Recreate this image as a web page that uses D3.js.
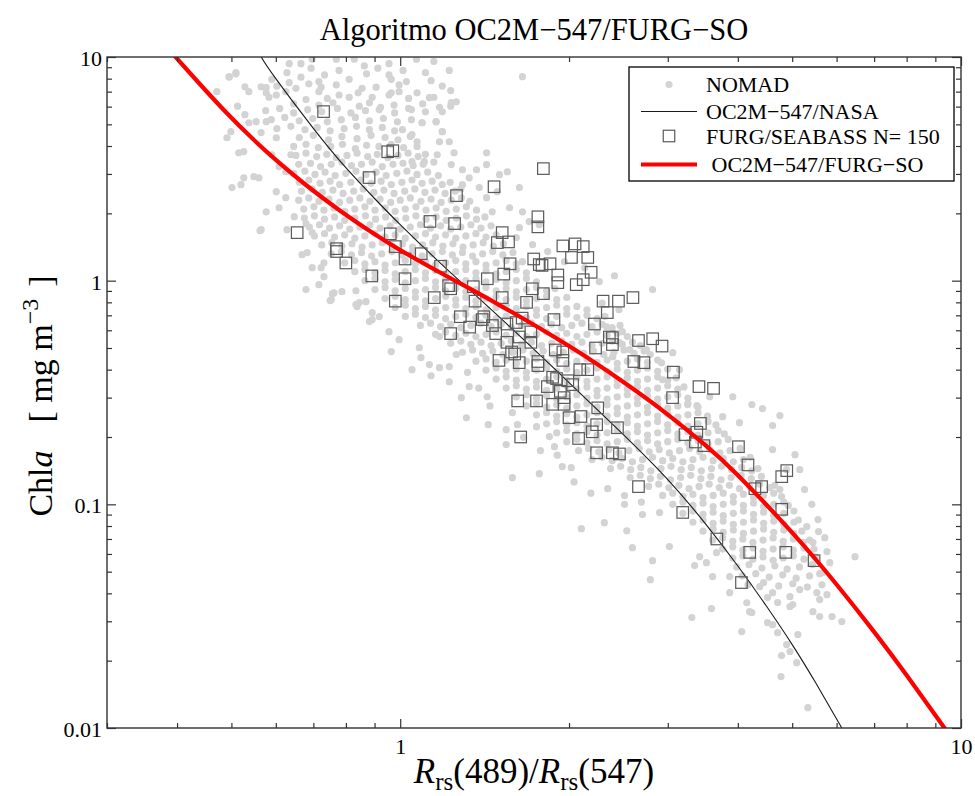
<!DOCTYPE html>
<html>
<head>
<meta charset="utf-8">
<script src="https://cdn.jsdelivr.net/npm/d3@7"></script>
<style>
  body { margin: 0; background: #fff; }
  text { font-family: "Liberation Serif", "DejaVu Serif", serif; fill: #000; }
</style>
</head>
<body>
<div class="canvas"></div>
<script>
const chartTitle = "Algoritmo OC2M\u2212547/FURG\u2212SO";
const xMajorTicks = [1, 10];
const yMajorTicks = [0.01, 0.1, 1, 10];
const legendLabels = ["NOMAD", "OC2M\u2212547/NASA", "FURG/SEABASS N= 150", " OC2M\u2212547/FURG\u2212SO"];

// OC2M-547/NASA curve (ratio, chl)
const nasaRatio = [0.565, 0.6, 0.7, 0.8, 0.9, 1, 1.2, 1.5, 2, 2.5, 3, 3.5, 4, 4.5, 5, 5.5, 6.13];
const nasaChl = [10, 8.0, 4.8, 3.2, 2.33, 1.78, 1.15, 0.69, 0.35, 0.205, 0.129, 0.082, 0.053, 0.035, 0.0236, 0.016, 0.01];

// OC2M-547/FURG-SO curve
const furgRatio = [0.392, 0.4375, 0.489, 0.544, 0.608, 0.68, 0.778, 0.891, 1, 1.2, 1.5, 2, 2.5, 3, 3.5, 4, 5, 6, 7, 8, 9.4];
const furgChl = [10.4, 7.65, 5.66, 4.34, 3.37, 2.67, 2.07, 1.64, 1.37, 1.06, 0.78, 0.51, 0.352, 0.252, 0.184, 0.135, 0.0747, 0.0438, 0.0269, 0.0172, 0.0098];

// FURG/SEABASS match-ups [ratio, chl]
const seabass = [
  [0.73,5.7],[0.95,3.77],[0.97,3.81],[0.88,2.89],[0.655,1.64],[0.96,1.62],[0.98,1.42],[0.77,1.39],[0.77,1.35],[0.80,1.20],[0.89,1.05],[0.98,0.81],
  [1.80,3.17],[1.47,2.63],[1.26,2.40],[1.13,1.84],[1.25,1.80],[1.76,1.93],[1.76,1.74],[1.52,1.64],[1.49,1.48],[1.56,1.49],[1.02,1.25],[1.09,1.32],
  [1.18,1.16],[1.95,1.43],[2.05,1.46],[2.12,1.42],[2.02,1.27],[2.16,1.27],[1.73,1.25],[1.57,1.19],[1.77,1.18],[1.79,1.17],[1.85,1.19],[2.19,1.09],
  [1.91,1.06],[1.91,0.98],[2.12,1.01],[2.06,0.96],[1.53,1.07],[1.43,1.02],[1.02,1.02],[1.22,0.95],[1.23,0.92],[1.35,0.94],[1.72,0.92],[1.80,0.875],
  [1.15,0.84],[1.36,0.81],[1.52,0.84],[1.68,0.80],[2.30,0.81],[2.45,0.81],[2.60,0.84],
  [1.28,0.69],[1.23,0.58],[1.33,0.62],[1.41,0.69],[1.40,0.67],[1.46,0.63],[1.55,0.64],[1.61,0.65],[1.48,0.58],[1.65,0.68],[1.71,0.59],[1.88,0.67],
  [2.22,0.64],[2.34,0.72],[1.55,0.53],[1.63,0.56],[1.71,0.53],[2.23,0.50],[2.36,0.56],[1.58,0.48],[1.60,0.47],[1.50,0.44],[1.63,0.43],[1.76,0.435],
  [1.76,0.417],[1.89,0.49],[1.95,0.48],[1.95,0.44],[2.09,0.40],[2.16,0.40],[1.87,0.37],[1.90,0.365],[1.99,0.357],[2.03,0.343],[1.83,0.336],[1.93,0.32],
  [1.96,0.30],[1.87,0.28],[1.96,0.28],[1.62,0.29],[1.75,0.29],[2.25,0.27],[2.00,0.244],[2.10,0.247],[2.24,0.227],[2.20,0.211],[2.08,0.197],[1.64,0.20],
  [2.24,0.17],[2.39,0.556],[2.39,0.518],[2.66,0.54],[2.82,0.55],[2.93,0.51],[2.61,0.435],[2.72,0.43],[3.07,0.39],[3.41,0.336],[3.62,0.33],[3.06,0.30],
  [2.44,0.22],[2.39,0.17],[2.46,0.168],[3.43,0.23],[3.22,0.205],[3.38,0.21],[3.36,0.19],[3.48,0.183],[4.01,0.181],[4.17,0.15],[4.79,0.133],[4.89,0.1415],
  [4.29,0.1175],[4.41,0.12],[2.66,0.12],[4.79,0.095],[3.19,0.092],[3.67,0.07],[4.20,0.061],[4.87,0.061],[5.47,0.056],[4.06,0.0447]
];

// NOMAD in situ set, kept as [log10 ratio, log10 chl]
const nomadLog = [
  [-.198,.97],[-.177,.97],[-.157,.99],[-.114,.99],[-.082,.99],[-.064,.96],[.029,.99],[-.02,.97],[.06,.98],[-.04,.95],
  [-.305,.91],[-.293,.93],[-.202,.93],[-.159,.95],[-.109,.94],[.0875,.94],[-.02,.92],[-.177,.91],[-.135,.92],[.045,.93],[-.06,.925],[.005,.94],
  [-.229,.9],[-.22,.87],[-.198,.885],[-.163,.88],[-.145,.89],[-.141,.865],[-.114,.875],[-.091,.9],[-.068,.86],[-.043,.865],[-.016,.9],[-.002,.875],[.011,.89],[.075,.87],[-.239,.863],
  [-.239,.84],[-.221,.83],[-.204,.845],[-.186,.86],[-.145,.845],[-.109,.83],[-.05,.82],[-.02,.83],[.03,.84],[.06,.82],[.09,.85],[-.13,.815],[-.075,.84],[.015,.815],[-.002,.845],[-.016,.84],
  [-.234,.82],[-.168,.81],[-.145,.785],[-.091,.82],[-.073,.78],[-.0375,.765],[-.011,.785],[.04,.79],[.07,.775],[.1,.8],[-.19,.79],[-.12,.795],[-.055,.795],[.015,.77],[-.29,.78],
  [-.24,.76],[-.215,.77],[-.19,.75],[-.165,.765],[-.14,.755],[-.112,.77],[-.088,.75],[-.062,.76],[-.035,.775],[-.01,.75],[.02,.765],[.045,.755],[.09,.78],
  [-.23,.72],[-.206,.73],[-.18,.715],[-.156,.725],[-.13,.71],[-.105,.72],[-.08,.73],[-.055,.715],[-.03,.725],[-.005,.71],[.02,.72],[.039,.706],[.064,.711],
  [-.22,.68],[-.195,.69],[-.17,.675],[-.148,.685],[-.125,.67],[-.1,.68],[-.078,.69],[-.055,.675],[-.032,.685],[-.01,.67],[.004,.675],[.075,.666],
  [-.18,.64],[-.155,.65],[-.128,.63],[-.104,.645],[-.077,.635],[-.052,.65],[-.027,.64],[-.004,.63],[.018,.645],
  [-.19,.6],[-.168,.61],[-.146,.595],[-.124,.6],[-.103,.61],[-.08,.59],[-.06,.605],[-.038,.6],[-.016,.61],[.006,.595],[.03,.6],
  [-.186,.56],[-.168,.57],[-.149,.555],[-.131,.565],[-.114,.55],[-.095,.56],[-.077,.57],[-.058,.555],[-.041,.565],[-.022,.55],[-.004,.56],[.014,.57],[.032,.555],[.045,.565],
  [-.181,.52],[-.16,.525],[-.142,.51],[-.123,.52],[-.104,.53],[-.087,.515],[-.069,.52],[-.05,.53],[-.032,.51],[-.013,.52],[.005,.525],[.023,.515],[.041,.52],[.06,.53],
  [-.19,.48],[-.17,.49],[-.152,.475],[-.134,.485],[-.116,.47],[-.097,.48],[-.079,.49],[-.061,.475],[-.043,.485],[-.025,.47],[-.006,.48],[.012,.49],[.03,.475],[.049,.485],[.068,.47],
  [-.18,.44],[-.163,.45],[-.143,.435],[-.125,.445],[-.108,.43],[-.088,.44],[-.07,.45],[-.052,.435],[-.034,.445],[-.016,.43],[.003,.44],[.021,.45],[.039,.435],[.057,.445],[.075,.43],[.089,.44],
  [-.176,.4],[-.157,.41],[-.139,.395],[-.12,.405],[-.102,.39],[-.083,.4],[-.066,.41],[-.047,.395],[-.029,.405],[-.011,.39],[.008,.4],[.026,.41],[.044,.395],[.062,.405],[.08,.39],[.098,.4],[.108,.41],
  [-.181,.36],[-.163,.37],[-.145,.355],[-.127,.365],[-.108,.35],[-.09,.36],[-.072,.37],[-.054,.355],[-.036,.365],[-.017,.35],[0,.36],[.018,.37],[.037,.355],[.055,.365],[.073,.35],[.091,.36],[.109,.37],[.124,.355],
  [-.172,.32],[-.154,.33],[-.136,.315],[-.118,.325],[-.099,.31],[-.081,.32],[-.063,.33],[-.045,.315],[-.027,.325],[-.009,.31],[.009,.32],[.028,.33],[.046,.315],[.064,.325],[.082,.31],[.1,.32],[.118,.33],[.136,.315],
  [-.171,.28],[-.153,.29],[-.135,.275],[-.117,.285],[-.099,.27],[-.081,.28],[-.062,.29],[-.044,.275],[-.026,.285],[-.008,.27],[.01,.28],[.028,.29],[.046,.275],[.064,.285],[.082,.27],[.1,.28],[.118,.29],[.136,.275],[.151,.285],
  [-.162,.24],[-.144,.25],[-.126,.235],[-.108,.245],[-.09,.23],[-.072,.24],[-.054,.25],[-.036,.235],[-.018,.245],[0,.23],[.018,.24],[.036,.25],[.054,.235],[.072,.245],[.09,.23],[.108,.24],[.126,.25],[.144,.235],[.162,.245],
  [-.153,.2],[-.135,.21],[-.117,.195],[-.099,.205],[-.081,.19],[-.063,.2],[-.045,.21],[-.027,.195],[-.009,.205],[.009,.19],[.027,.2],[.045,.21],[.063,.195],[.081,.205],[.099,.19],[.117,.2],[.135,.21],[.153,.195],[.171,.205],
  [-.14,.16],[-.122,.17],[-.104,.155],[-.086,.165],[-.068,.15],[-.05,.16],[-.032,.17],[-.014,.155],[.004,.165],[.022,.15],[.04,.16],[.058,.17],[.076,.155],[.094,.165],[.112,.15],[.13,.16],[.148,.17],[.166,.155],[.184,.165],
  [-.123,.12],[-.105,.13],[-.087,.115],[-.069,.125],[-.051,.11],[-.033,.12],[-.015,.13],[.003,.115],[.021,.125],[.039,.11],[.057,.12],[.075,.13],[.093,.115],[.111,.125],[.129,.11],[.147,.12],[.165,.13],[.183,.115],[.201,.125],
  [-.099,.08],[-.081,.09],[-.063,.075],[-.045,.085],[-.027,.07],[-.009,.08],[.009,.09],[.027,.075],[.045,.085],[.063,.07],[.081,.08],[.099,.09],[.117,.075],[.135,.085],[.153,.07],[.171,.08],[.189,.09],[.207,.075],[.218,.085],
  [-.081,.04],[-.063,.05],[-.045,.035],[-.027,.045],[-.009,.03],[.009,.04],[.027,.05],[.045,.035],[.063,.045],[.081,.03],[.099,.04],[.117,.05],[.135,.035],[.153,.045],[.171,.03],[.189,.04],[.207,.05],[.225,.035],
  [-.063,0],[-.045,.01],[-.027,-.005],[-.009,.005],[.009,-.01],[.027,0],[.045,.01],[.063,-.005],[.081,.005],[.099,-.01],[.117,0],[.135,.01],[.153,-.005],[.171,.005],[.189,-.01],[.207,0],[.225,.01],[.243,-.005],
  [-.045,-.04],[-.027,-.03],[-.009,-.045],[.009,-.035],[.027,-.05],[.045,-.04],[.063,-.03],[.081,-.045],[.099,-.035],[.117,-.05],[.135,-.04],[.153,-.03],[.171,-.045],[.189,-.035],[.207,-.05],[.225,-.04],[.243,-.03],[.261,-.045],[.276,-.035],
  [-.027,-.08],[-.009,-.07],[.009,-.085],[.027,-.075],[.045,-.09],[.063,-.08],[.081,-.07],[.099,-.085],[.117,-.075],[.135,-.09],[.153,-.08],[.171,-.07],[.189,-.085],[.207,-.075],[.225,-.09],[.243,-.08],[.261,-.07],[.279,-.085],[.297,-.075],
  [-.009,-.12],[.009,-.11],[.027,-.125],[.045,-.115],[.063,-.13],[.081,-.12],[.099,-.11],[.117,-.125],[.135,-.115],[.153,-.13],[.171,-.12],[.189,-.11],[.207,-.125],[.225,-.115],[.243,-.13],[.261,-.12],[.279,-.11],[.297,-.125],[.315,-.115],[.333,-.13],
  [.009,-.16],[.027,-.15],[.045,-.165],[.063,-.155],[.081,-.17],[.099,-.16],[.117,-.15],[.135,-.165],[.153,-.155],[.171,-.17],[.189,-.16],[.207,-.15],[.225,-.165],[.243,-.155],[.261,-.17],[.279,-.16],[.297,-.15],[.315,-.165],[.333,-.155],[.351,-.17],[.365,-.16],
  [.036,-.2],[.054,-.19],[.072,-.205],[.09,-.195],[.108,-.21],[.126,-.2],[.144,-.19],[.162,-.205],[.18,-.195],[.198,-.21],[.216,-.2],[.234,-.19],[.252,-.205],[.27,-.195],[.288,-.21],[.306,-.2],[.324,-.19],[.342,-.205],[.36,-.195],[.378,-.21],[.392,-.2],
  [.063,-.24],[.081,-.23],[.099,-.245],[.117,-.235],[.135,-.25],[.153,-.24],[.171,-.23],[.189,-.245],[.207,-.235],[.225,-.25],[.243,-.24],[.261,-.23],[.279,-.245],[.297,-.235],[.315,-.25],[.333,-.24],[.351,-.23],[.369,-.245],[.387,-.235],[.405,-.25],
  [.09,-.28],[.108,-.27],[.126,-.285],[.144,-.275],[.162,-.29],[.18,-.28],[.198,-.27],[.216,-.285],[.234,-.275],[.252,-.29],[.27,-.28],[.288,-.27],[.306,-.285],[.324,-.275],[.342,-.29],[.36,-.28],[.378,-.27],[.396,-.285],[.414,-.275],[.428,-.29],
  [.111,-.32],[.129,-.31],[.147,-.325],[.165,-.315],[.183,-.33],[.201,-.32],[.219,-.31],[.237,-.325],[.255,-.315],[.273,-.33],[.291,-.32],[.309,-.31],[.327,-.325],[.345,-.315],[.363,-.33],[.381,-.32],[.399,-.31],[.417,-.325],[.435,-.315],[.446,-.33],
  [.135,-.36],[.153,-.35],[.171,-.365],[.189,-.355],[.207,-.37],[.225,-.36],[.243,-.35],[.261,-.365],[.279,-.355],[.297,-.37],[.315,-.36],[.333,-.35],[.351,-.365],[.369,-.355],[.387,-.37],[.405,-.36],[.423,-.35],[.441,-.365],[.459,-.355],
  [.153,-.4],[.171,-.39],[.189,-.405],[.207,-.395],[.225,-.41],[.243,-.4],[.261,-.39],[.279,-.405],[.297,-.395],[.315,-.41],[.333,-.4],[.351,-.39],[.369,-.405],[.387,-.395],[.405,-.41],[.423,-.4],[.441,-.39],[.459,-.405],[.477,-.395],
  [.171,-.44],[.189,-.43],[.207,-.445],[.225,-.435],[.243,-.45],[.261,-.44],[.279,-.43],[.297,-.445],[.315,-.435],[.333,-.45],[.351,-.44],[.369,-.43],[.387,-.445],[.405,-.435],[.423,-.45],[.441,-.44],[.459,-.43],[.477,-.445],[.492,-.435],
  [.189,-.48],[.207,-.47],[.225,-.485],[.243,-.475],[.261,-.49],[.279,-.48],[.297,-.47],[.315,-.485],[.333,-.475],[.351,-.49],[.369,-.48],[.387,-.47],[.405,-.485],[.423,-.475],[.441,-.49],[.459,-.48],[.477,-.47],[.495,-.485],[.506,-.475],
  [.207,-.52],[.225,-.51],[.243,-.525],[.261,-.515],[.279,-.53],[.297,-.52],[.315,-.51],[.333,-.525],[.351,-.515],[.369,-.53],[.387,-.52],[.405,-.51],[.423,-.525],[.441,-.515],[.459,-.53],[.477,-.52],[.495,-.51],[.513,-.525],
  [.225,-.56],[.243,-.55],[.261,-.565],[.279,-.555],[.297,-.57],[.315,-.56],[.333,-.55],[.351,-.565],[.369,-.555],[.387,-.57],[.405,-.56],[.423,-.55],[.441,-.565],[.459,-.555],[.477,-.57],[.495,-.56],[.513,-.55],[.531,-.565],
  [.243,-.6],[.261,-.59],[.279,-.605],[.297,-.595],[.315,-.61],[.333,-.6],[.351,-.59],[.369,-.605],[.387,-.595],[.405,-.61],[.423,-.6],[.441,-.59],[.459,-.605],[.477,-.595],[.495,-.61],[.513,-.6],[.531,-.59],[.548,-.605],
  [.261,-.64],[.279,-.63],[.297,-.645],[.315,-.635],[.333,-.65],[.351,-.64],[.369,-.63],[.387,-.645],[.405,-.635],[.423,-.65],[.441,-.64],[.459,-.63],[.477,-.645],[.495,-.635],[.513,-.65],[.531,-.64],[.549,-.63],[.563,-.645],
  [.279,-.68],[.297,-.67],[.315,-.685],[.333,-.675],[.351,-.69],[.369,-.68],[.387,-.67],[.405,-.685],[.423,-.675],[.441,-.69],[.459,-.68],[.477,-.67],[.495,-.685],[.513,-.675],[.531,-.69],[.549,-.68],[.567,-.67],[.578,-.685],
  [.297,-.72],[.315,-.71],[.333,-.725],[.351,-.715],[.369,-.73],[.387,-.72],[.405,-.71],[.423,-.725],[.441,-.715],[.459,-.73],[.477,-.72],[.495,-.71],[.513,-.725],[.531,-.715],[.549,-.73],[.567,-.72],[.585,-.71],
  [.318,-.76],[.336,-.75],[.354,-.765],[.372,-.755],[.39,-.77],[.408,-.76],[.426,-.75],[.444,-.765],[.462,-.755],[.48,-.77],[.498,-.76],[.516,-.75],[.534,-.765],[.552,-.755],[.57,-.77],[.588,-.76],[.606,-.75],
  [.342,-.8],[.36,-.79],[.378,-.805],[.396,-.795],[.414,-.81],[.432,-.8],[.45,-.79],[.468,-.805],[.486,-.795],[.504,-.81],[.522,-.8],[.54,-.79],[.558,-.805],[.576,-.795],[.594,-.81],[.612,-.8],[.624,-.79],
  [.375,-.84],[.393,-.83],[.411,-.845],[.429,-.835],[.447,-.85],[.465,-.84],[.483,-.83],[.501,-.845],[.519,-.835],[.537,-.85],[.555,-.84],[.573,-.83],[.591,-.845],[.609,-.835],[.627,-.85],[.638,-.84],
  [.41,-.88],[.428,-.87],[.446,-.885],[.464,-.875],[.482,-.89],[.5,-.88],[.518,-.87],[.536,-.885],[.554,-.875],[.572,-.89],[.59,-.88],[.608,-.87],[.626,-.885],[.644,-.875],
  [.443,-.92],[.461,-.91],[.479,-.925],[.497,-.915],[.515,-.93],[.533,-.92],[.551,-.91],[.569,-.925],[.587,-.915],[.605,-.93],[.623,-.92],[.641,-.91],[.659,-.925],[.668,-.915],
  [.468,-.96],[.486,-.95],[.504,-.965],[.522,-.955],[.54,-.97],[.558,-.96],[.576,-.95],[.594,-.965],[.612,-.955],[.63,-.97],[.648,-.96],[.666,-.95],[.68,-.965],
  [.486,-1],[.504,-.99],[.522,-1.005],[.54,-.995],[.558,-1.01],[.576,-1],[.594,-.99],[.612,-1.005],[.63,-.995],[.648,-1.01],[.666,-1],[.684,-.99],[.692,-1.005],
  [.504,-1.04],[.522,-1.03],[.54,-1.045],[.558,-1.035],[.576,-1.05],[.594,-1.04],[.612,-1.03],[.63,-1.045],[.648,-1.035],[.666,-1.05],[.684,-1.04],[.702,-1.03],
  [.522,-1.08],[.54,-1.07],[.558,-1.085],[.576,-1.075],[.594,-1.09],[.612,-1.08],[.63,-1.07],[.648,-1.085],[.666,-1.075],[.684,-1.09],[.702,-1.08],[.71,-1.07],
  [.54,-1.12],[.558,-1.11],[.576,-1.125],[.594,-1.115],[.612,-1.13],[.63,-1.12],[.648,-1.11],[.666,-1.125],[.684,-1.115],[.702,-1.13],[.716,-1.12],
  [.557,-1.16],[.575,-1.15],[.593,-1.165],[.611,-1.155],[.629,-1.17],[.647,-1.16],[.665,-1.15],[.683,-1.165],[.701,-1.155],[.719,-1.17],[.73,-1.16],
  [.575,-1.2],[.593,-1.19],[.611,-1.205],[.629,-1.195],[.647,-1.21],[.665,-1.2],[.683,-1.19],[.701,-1.205],[.72,-1.195],[.738,-1.2],
  [.593,-1.24],[.611,-1.23],[.629,-1.245],[.647,-1.235],[.665,-1.25],[.683,-1.24],[.701,-1.23],[.72,-1.245],[.74,-1.235],
  [.6,-1.28],[.622,-1.27],[.645,-1.285],[.668,-1.275],[.69,-1.29],[.712,-1.28],[.735,-1.27],
  [.61,-1.32],[.634,-1.31],[.658,-1.325],[.682,-1.315],[.706,-1.33],[.73,-1.32],[.748,-1.31],
  [.62,-1.36],[.648,-1.35],[.675,-1.365],[.7,-1.355],[.726,-1.37],[.752,-1.36],
  // scattered dots around the band
  [-.327,.845],[-.305,.912],[-.293,.925],[-.302,.666],[-.309,.639],[-.288,.572],[-.279,.577],[-.3,.416],[-.284,.429],[-.248,.228],[-.202,.228],
  [-.277,.867],[-.27,.845],[-.248,.867],[-.277,.742],[-.27,.706],[-.257,.711],[-.239,.711],[-.248,.662],[-.221,.639],[-.252,.46],[-.279,.46],
  [-.261,.465],[-.216,.51],[-.204,.487],[-.229,.563],[-.195,.563],[-.221,.398],[-.204,.371],[-.216,.326],[-.239,.308],[-.189,.286],[-.157,.215],
  [-.175,.116],[-.157,.058],[-.141,.058],[-.168,-.04],[-.136,.08],[-.145,-.018],[-.118,-.054],[-.104,-.049],[-.25,.224],[-.168,.255],[-.166,.125],
  [-.136,.018],[-.123,-.085],[-.079,-.045],[-.077,-.116],[-.061,-.094],[-.05,-.143],[-.055,-.183],[-.121,-.058],[-.125,-.089],[-.079,-.107],
  [-.073,-.098],[-.05,-.174],[-.0375,-.161],[-.02,-.228],[-.002,-.264],[-.016,-.317],[.034,-.3],[.021,-.398],[.055,-.425],[.07,-.389],[.0875,-.384],
  [.109,-.523],[.118,-.613],[.155,-.519],[.157,-.644],[.123,-.474],[.0875,-.452],[.037,-.344],[.052,-.375],[.189,-.666],[.2,-.881],[.248,-.863],
  [.289,-.831],[.305,-.836],[.209,-.644],[.243,-.653],[.266,-.697],[.275,-.742],[.189,-.733],
  [.07,-.25],[.1,-.33],[.12,-.41],[.14,-.48],[.16,-.56],[.2,-.59],[.22,-.7],[.25,-.76],[.28,-.78],[.31,-.9],[.34,-.95],[.37,-.93],[.4,-1.0],[.43,-.99],
  [.154,.572],[.096,.572],[.091,.519],[.111,.496],[.136,.496],[.154,.519],[.177,.474],[.191,.487],[.123,.46],[.111,.429],[.141,.416],[.2125,.416],
  [.173,.398],[.154,.371],[.218,.308],[.195,.326],[.164,.308],[.23,.264],[.2125,.237],[.207,.192],[.236,.161],[.091,.796],[.075,.755],[.039,.706],
  [.064,.711],[.075,.666],[.021,.653],[.03,.621],[.07,.621],[.0875,.621],[.066,.563],[.043,.532],[.021,.532],[.055,.894],[.052,.818],[.218,.912],
  [.263,.13],[.293,.085],[.329,.058],[.355,-.004],[.382,.022],[.248,.25],[.45,-.04],[.36,-.1],[.39,-.13],[.379,-.34],[.368,-.206],[.396,-.228],
  [.391,-.277],[.409,-.308],[.439,-.308],[.466,-.367],[.486,-.322],[.498,-.398],[.468,-.443],[.5125,-.554],[.529,-.559],[.552,-.519],[.593,-.519],
  [.627,-.554],[.646,-.572],[.677,-.603],[.664,-.648],[.605,-.635],[.575,-.608],[.689,-.845],[.664,-.755],[.677,-.934],[.704,-.778],[.7125,-.845],
  [.721,-.934],[.734,-1.0],[.745,-1.068],
  [.323,-1.109],[.364,-1.082],[.404,-1.118],[.414,-1.194],[.45,-1.252],[.446,-1.337],[.48,-1.189],[.4,-.961],[.432,-1.046],[.4625,-1.037],
  [.525,-1.274],[.546,-1.261],[.534,-1.234],[.564,-1.216],[.557,-1.323],[.5875,-1.323],
  [.725,-1.1],[.746,-1.122],[.761,-1.211],[.811,-1.234],[.757,-1.149],[.736,-1.171],[.766,-1.261],[.754,-1.305],
  [.52,-1.506],[.555,-1.466],[.609,-1.569],[.623,-1.48],[.5875,-1.395],[.618,-1.44],[.641,-1.368],[.664,-1.395],[.695,-1.413],[.7125,-1.381],
  [.743,-1.395],[.761,-1.404],[.748,-1.426],[.7,-1.448],[.673,-1.439],[.655,-1.417],[.655,-1.529],[.664,-1.538],[.627,-1.484],[.695,-1.457],
  [.736,-1.48],[.748,-1.502],[.77,-1.502],[.7875,-1.524],[.673,-1.574],[.689,-1.627],[.709,-1.582],[.68,-1.676],[.695,-1.658],[.707,-1.708],
  [.679,-1.77],[.727,-1.909]
];

const width = 975;
const height = 796;
const margin = { top: 57, right: 14, bottom: 68, left: 107 };
const frameColor = "#333";

const x = d3.scaleLog().domain([0.3, 10]).range([margin.left, width - margin.right]);
const y = d3.scaleLog().domain([0.01, 10]).range([height - margin.bottom, margin.top]);

const svg = d3.select(".canvas")
  .append("svg")
  .attr("width", width)
  .attr("height", height)
  .attr("viewBox", [0, 0, width, height]);

svg.append("defs").append("clipPath")
  .attr("id", "plot-clip")
  .append("rect")
  .attr("x", margin.left)
  .attr("y", margin.top)
  .attr("width", width - margin.left - margin.right)
  .attr("height", height - margin.top - margin.bottom);

const plot = svg.append("g").attr("clip-path", "url(#plot-clip)");

// NOMAD points
plot.append("g")
  .attr("fill", "#d3d3d3")
  .selectAll("circle")
  .data(nomadLog)
  .join("circle")
  .attr("cx", d => x(Math.pow(10, d[0])))
  .attr("cy", d => y(Math.pow(10, d[1])))
  .attr("r", 3.6);

const line = d3.line()
  .x(d => x(d[0]))
  .y(d => y(d[1]))
  .curve(d3.curveNatural);

// NASA curve
plot.append("path")
  .datum(nasaRatio.map((r, i) => [r, nasaChl[i]]))
  .attr("fill", "none")
  .attr("stroke", "#1a1a1a")
  .attr("stroke-width", 1.1)
  .attr("d", line);

// SEABASS squares
const sq = 11.5;
plot.append("g")
  .attr("fill", "none")
  .attr("stroke", "#5a5a5a")
  .attr("stroke-width", 1.2)
  .selectAll("rect")
  .data(seabass)
  .join("rect")
  .attr("x", d => x(d[0]) - sq / 2)
  .attr("y", d => y(d[1]) - sq / 2)
  .attr("width", sq)
  .attr("height", sq);

// FURG-SO curve
plot.append("path")
  .datum(furgRatio.map((r, i) => [r, furgChl[i]]))
  .attr("fill", "none")
  .attr("stroke", "#ff0000")
  .attr("stroke-width", 4.2)
  .attr("d", line);

// frame
svg.append("rect")
  .attr("x", margin.left)
  .attr("y", margin.top)
  .attr("width", width - margin.left - margin.right)
  .attr("height", height - margin.top - margin.bottom)
  .attr("fill", "none")
  .attr("stroke", frameColor)
  .attr("stroke-width", 1.4);

// ticks, all pointing inward
const xMinor = x.ticks().filter(t => !xMajorTicks.includes(t));
const yMinor = y.ticks().filter(t => !yMajorTicks.includes(t));
const fmt = d => String(d);

function styleAxis(g) {
  g.attr("color", frameColor).attr("font-size", 22);
  g.select(".domain").remove();
  g.selectAll(".tick line").attr("stroke-width", 1.2);
}

const plotBottom = y.range()[0], plotTop = y.range()[1];
const plotLeft = x.range()[0], plotRight = x.range()[1];

svg.append("g").attr("transform", `translate(0,${plotBottom})`)
  .call(d3.axisBottom(x).tickValues(xMajorTicks).tickSize(-9).tickPadding(10).tickFormat(fmt)).call(styleAxis);
svg.append("g").attr("transform", `translate(0,${plotBottom})`)
  .call(d3.axisBottom(x).tickValues(xMinor).tickSize(-5).tickFormat("")).call(styleAxis);
svg.append("g").attr("transform", `translate(0,${plotTop})`)
  .call(d3.axisTop(x).tickValues(xMajorTicks).tickSize(-9).tickFormat("")).call(styleAxis);
svg.append("g").attr("transform", `translate(0,${plotTop})`)
  .call(d3.axisTop(x).tickValues(xMinor).tickSize(-5).tickFormat("")).call(styleAxis);

svg.append("g").attr("transform", `translate(${plotLeft},0)`)
  .call(d3.axisLeft(y).tickValues(yMajorTicks).tickSize(-9).tickPadding(5).tickFormat(fmt)).call(styleAxis)
  .call(g => g.selectAll("text").attr("dy", "0.38em"));
svg.append("g").attr("transform", `translate(${plotLeft},0)`)
  .call(d3.axisLeft(y).tickValues(yMinor).tickSize(-5).tickFormat("")).call(styleAxis);
svg.append("g").attr("transform", `translate(${plotRight},0)`)
  .call(d3.axisRight(y).tickValues(yMajorTicks).tickSize(-9).tickFormat("")).call(styleAxis);
svg.append("g").attr("transform", `translate(${plotRight},0)`)
  .call(d3.axisRight(y).tickValues(yMinor).tickSize(-5).tickFormat("")).call(styleAxis);

// title
svg.append("text")
  .attr("x", (plotLeft + plotRight) / 2)
  .attr("y", 40)
  .attr("text-anchor", "middle")
  .attr("font-size", 30.5)
  .text(chartTitle);

// x axis title: R_rs(489)/R_rs(547)
const xt = svg.append("text")
  .attr("x", (plotLeft + plotRight) / 2)
  .attr("y", 783)
  .attr("text-anchor", "middle")
  .attr("font-size", 35);
xt.append("tspan").attr("font-style", "italic").text("R");
xt.append("tspan").attr("font-size", 25).attr("dy", 7).text("rs");
xt.append("tspan").attr("dy", -7).text("(489)/");
xt.append("tspan").attr("font-style", "italic").text("R");
xt.append("tspan").attr("font-size", 25).attr("dy", 7).text("rs");
xt.append("tspan").attr("dy", -7).text("(547)");

// y axis title: Chla [ mg m^-3 ]
const yt = svg.append("text")
  .attr("transform", `translate(52,396) rotate(-90)`)
  .attr("text-anchor", "middle")
  .attr("font-size", 34)
  .style("white-space", "pre");
yt.append("tspan").text("Chl");
yt.append("tspan").attr("font-style", "italic").text("a");
yt.append("tspan").attr("dx", 28).text("[");
yt.append("tspan").text(" mg m");
yt.append("tspan").attr("font-size", 24).attr("dy", -14).text("\u22123");
yt.append("tspan").attr("dy", 14).attr("dx", 12).text("]");

// legend
const legend = svg.append("g");
legend.append("rect")
  .attr("x", 629).attr("y", 67)
  .attr("width", 325).attr("height", 114)
  .attr("fill", "#fff")
  .attr("stroke", "#000")
  .attr("stroke-width", 1.3);

const rowY = [84.5, 111.5, 136, 164.5];
legend.append("circle").attr("cx", 669).attr("cy", rowY[0]).attr("r", 3.6).attr("fill", "#d3d3d3");
legend.append("line").attr("x1", 641).attr("x2", 697).attr("y1", rowY[1]).attr("y2", rowY[1])
  .attr("stroke", "#1a1a1a").attr("stroke-width", 1.1);
legend.append("rect").attr("x", 669 - sq / 2).attr("y", rowY[2] - sq / 2).attr("width", sq).attr("height", sq)
  .attr("fill", "none").attr("stroke", "#5a5a5a").attr("stroke-width", 1.2);
legend.append("line").attr("x1", 641).attr("x2", 697).attr("y1", rowY[3]).attr("y2", rowY[3])
  .attr("stroke", "#ff0000").attr("stroke-width", 4.2);

legend.selectAll("text.lab")
  .data(legendLabels)
  .join("text")
  .attr("class", "lab")
  .attr("x", 706)
  .attr("y", (d, i) => rowY[i] + 7.5)
  .attr("font-size", 22)
  .style("white-space", "pre")
  .text(d => d);
</script>
</body>
</html>
